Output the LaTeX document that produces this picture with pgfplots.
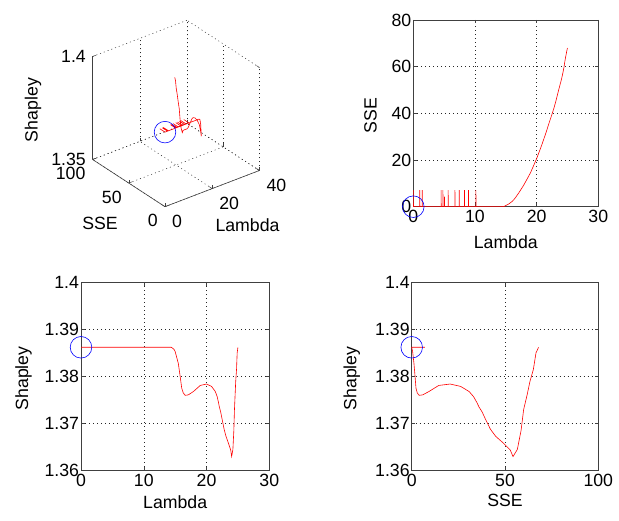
\documentclass[border=0pt]{standalone}
\usepackage{fontspec}
\setmainfont{Liberation Sans}
\usepackage{pgfplots}
\usepackage{pgfplotstable}
\pgfplotsset{compat=1.18}

\pgfplotstableread{
L S P
0 0 1.3862
0 7.1 1.3862
0.03 0 1.3862
1.05 0 1.3862
1.05 7.1 1.3862
1.08 0 1.3862
1.45 0 1.3862
1.45 7.1 1.3862
1.48 0 1.3862
4.5 0 1.3862
4.5 7.1 1.3862
4.53 0 1.3862
4.8 0 1.3862
4.8 7.1 1.3862
4.83 0 1.3862
5.05 0 1.3862
5.05 4.3 1.3862
5.08 0 1.3862
5.65 0 1.3862
5.65 7.1 1.3862
5.68 0 1.3862
6.75 0 1.3862
6.75 7.1 1.3862
6.78 0 1.3862
7.45 0 1.3862
7.45 7.1 1.3862
7.48 0 1.3862
8.3 0 1.3862
8.3 7.1 1.3862
8.33 0 1.3862
8.95 0 1.3862
8.95 7.1 1.3862
8.98 0 1.3862
10.15 0 1.3862
10.15 7.1 1.3862
10.18 0 1.3862
14.4 0 1.3862
14.8 0.2 1.3858
15.0 0.5 1.3853
15.5 1.2 1.3828
15.8 1.8 1.3800
16.05 2.3 1.3775
16.3 3.0 1.3765
16.6 4.0 1.3760
17.1 5.9 1.3761
17.9 9.2 1.3768
19.0 14.5 1.3781
20.0 20.6 1.3784
20.8 26.2 1.3779
21.4 30.8 1.3768
21.7 33.2 1.3757
21.9 34.9 1.3745
22.05 36.1 1.3735
22.25 37.7 1.3725
22.5 39.7 1.3708
22.8 42.2 1.3688
23.1 45.0 1.3673
23.5 49.3 1.3658
23.85 52.8 1.3644
24.0 54.3 1.3630
24.2 56.6 1.3645
24.35 58.6 1.3685
24.45 60.0 1.3730
24.55 61.8 1.3760
24.65 63.4 1.3790
24.78 65.2 1.3815
24.88 66.6 1.3850
25.0 68.0 1.3862
}\datatab

\newcommand{\fs}{\fontsize{17.7}{21}\selectfont}

\pgfplotsset{
  mstyle/.style={
    scale only axis, clip=false,
    font=\fs,
    tick label style={font=\fs},
    /pgf/number format/assume math mode=true,
    axis line style={black!75, line width=0.6pt},
    grid=major,
    major grid style={black!85, line width=0.5pt, dash pattern=on 1pt off 3pt},
    tick align=inside, major tick length=3.5pt,
    every tick/.style={black!75, line width=0.5pt},
    scaled ticks=false,
  },
  redline/.style={red, line width=0.6pt},
  bluecirc/.style={blue, only marks, mark=o, mark size=10.8pt, mark options={line width=0.6pt}},
}

\begin{document}
\begin{tikzpicture}
\path[use as bounding box] (0,0) rectangle (619pt,521pt);

% 3D plot
\begin{axis}[mstyle,
  at={(92.6pt,314.3pt)}, anchor=south west,
  x={(2.36pt,0.905pt)}, y={(-0.724pt,0.472pt)}, z={(0pt,2060pt)},
  xmin=0, xmax=40, ymin=0, ymax=100, zmin=1.35, zmax=1.4,
  xtick={0,20,40}, ytick={0,50,100}, ztick={1.35,1.4},
  xticklabels={0,20,40}, yticklabels={0,50,100}, zticklabels={1.35,1.4},
  axis line style={draw=none},
  xtick pos=left, ytick pos=left, ztick pos=left,
  xticklabel style={anchor=west, inner sep=0pt, xshift=7pt, yshift=-14.5pt},
  yticklabel style={anchor=east, inner sep=0pt, xshift=-7pt, yshift=-14pt},
  zticklabel style={anchor=east, inner sep=0pt, xshift=-6.6pt},
  xlabel={Lambda}, ylabel={SSE}, zlabel={Shapley},
  every axis x label/.style={at={(rel axis cs:0.363,-0.666,0)}, anchor=center, inner sep=0pt},
  every axis y label/.style={at={(rel axis cs:-0.600,0.115,0)}, anchor=center, inner sep=0pt},
  every axis z label/.style={at={(rel axis cs:-0.631,1,0.702)}, anchor=center, rotate=90, inner sep=0pt},
]
\addplot3[redline] table[x=L, y=S, z=P] {\datatab};
\addplot3[bluecirc] coordinates {(0,0,1.3862)};
\draw[black!75, line width=0.6pt] (axis cs:0,0,1.35) -- (axis cs:40,0,1.35);
\draw[black!75, line width=0.6pt] (axis cs:0,0,1.35) -- (axis cs:0,100,1.35);
\draw[black!75, line width=0.6pt] (axis cs:0,100,1.35) -- (axis cs:0,100,1.4);
\end{axis}

% SSE vs Lambda
\begin{axis}[mstyle,
  at={(413.3pt,314.3pt)}, anchor=south west, width=185pt, height=186.7pt,
  xmin=0, xmax=30, ymin=0, ymax=80,
  xtick={0,10,20,30}, ytick={0,20,40,60,80},
  yticklabel style={xshift=1.5pt},
  xlabel={Lambda}, ylabel={SSE},
  every axis x label/.style={at={(axis description cs:0.5,0)}, anchor=base, yshift=-41.6pt, inner sep=0pt},
  every axis y label/.style={at={(axis description cs:0,0.5)}, anchor=base, rotate=90, yshift=36.6pt, xshift=-2pt, inner sep=0pt},
]
\addplot[redline] table[x=L, y=S] {\datatab};
\addplot[bluecirc] coordinates {(0,0)};
\end{axis}

% Shapley vs Lambda
\begin{axis}[mstyle,
  at={(81pt,50.3pt)}, anchor=south west, width=188.3pt, height=188.4pt,
  xmin=0, xmax=30, ymin=1.36, ymax=1.4,
  xtick={0,10,20,30}, ytick={1.36,1.37,1.38,1.39,1.4},
  yticklabels={1.36,1.37,1.38,1.39,1.4},
  yticklabel style={xshift=1.5pt},
  xlabel={Lambda}, ylabel={Shapley},
  every axis x label/.style={at={(axis description cs:0.5,0)}, anchor=base, yshift=-37.6pt, inner sep=0pt},
  every axis y label/.style={at={(axis description cs:0,0.5)}, anchor=base, rotate=90, yshift=52.9pt, xshift=-2pt, inner sep=0pt},
]
\addplot[redline] table[x=L, y=P] {\datatab};
\addplot[bluecirc] coordinates {(0,1.3862)};
\end{axis}

% Shapley vs SSE
\begin{axis}[mstyle,
  at={(411.7pt,50.3pt)}, anchor=south west, width=186.6pt, height=188.4pt,
  xmin=0, xmax=100, ymin=1.36, ymax=1.4,
  xtick={0,50,100}, ytick={1.36,1.37,1.38,1.39,1.4},
  yticklabels={1.36,1.37,1.38,1.39,1.4},
  yticklabel style={xshift=1.5pt},
  xlabel={SSE}, ylabel={Shapley},
  every axis x label/.style={at={(axis description cs:0.5,0)}, anchor=base, yshift=-36pt, inner sep=0pt},
  every axis y label/.style={at={(axis description cs:0,0.5)}, anchor=base, rotate=90, yshift=55.3pt, xshift=-2pt, inner sep=0pt},
]
\addplot[redline] table[x=S, y=P] {\datatab};
\addplot[bluecirc] coordinates {(0,1.3862)};
\end{axis}
\end{tikzpicture}
\end{document}
